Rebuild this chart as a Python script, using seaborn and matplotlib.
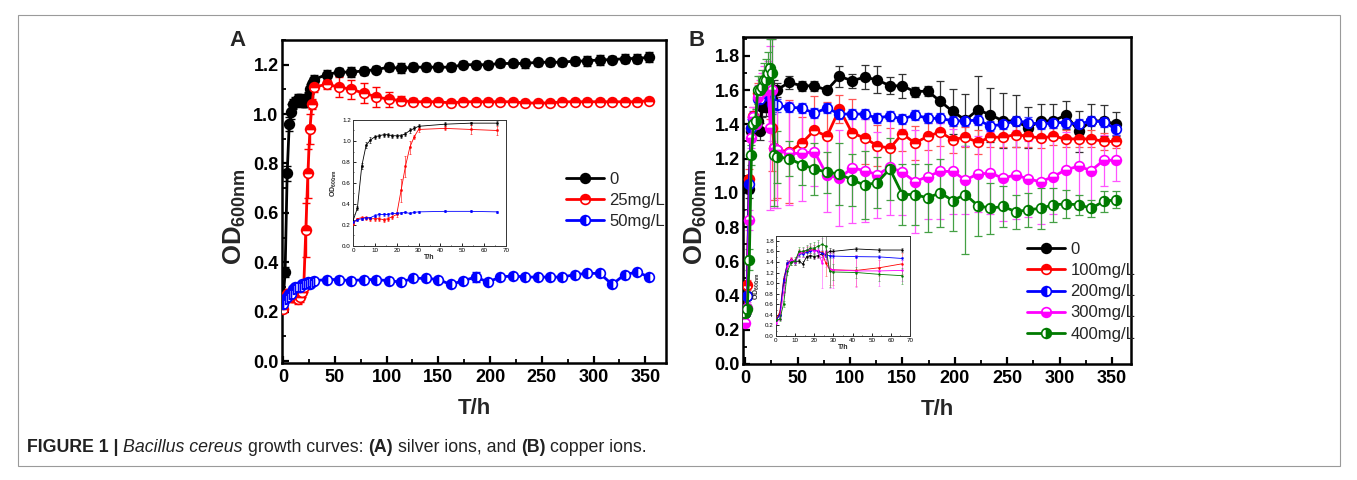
import numpy as np
import pandas as pd
import matplotlib
matplotlib.use("Agg")
import matplotlib.pyplot as plt
from matplotlib.patches import Rectangle
from matplotlib.ticker import MultipleLocator
import seaborn as sns

# ---------------- data ----------------
hours = [0, 2, 4, 6, 8, 10, 12, 14, 16, 18, 20, 22, 24, 26, 28, 30,
         42, 54, 66, 78, 90, 102, 114, 126, 138, 150, 162, 174, 186, 198,
         210, 222, 234, 246, 258, 270, 282, 294, 306, 318, 330, 342, 354]

# Panel A: silver ions
ag_labels = ["0", "25mg/L", "50mg/L"]
ag_0 = [0.24, 0.36, 0.76, 0.96, 1.01, 1.04, 1.05, 1.06, 1.06, 1.05, 1.05, 1.05, 1.07, 1.10, 1.12, 1.14,
        1.16, 1.17, 1.17, 1.175, 1.18, 1.19, 1.185, 1.19, 1.19, 1.19, 1.19, 1.20, 1.20, 1.20,
        1.205, 1.205, 1.205, 1.21, 1.21, 1.21, 1.215, 1.215, 1.22, 1.22, 1.225, 1.225, 1.23]
ag_0_err = [0.01, 0.02, 0.03, 0.03, 0.03, 0.02, 0.02, 0.02, 0.02, 0.02, 0.02, 0.02, 0.02, 0.02, 0.02, 0.02,
            0.02, 0.015, 0.02, 0.015, 0.015, 0.015, 0.02, 0.015, 0.015, 0.015, 0.015, 0.015, 0.015, 0.015,
            0.015, 0.015, 0.02, 0.015, 0.015, 0.015, 0.015, 0.02, 0.02, 0.015, 0.02, 0.02, 0.02]
ag_25 = [0.21, 0.26, 0.27, 0.27, 0.26, 0.26, 0.26, 0.25, 0.26, 0.28, 0.30, 0.53, 0.76, 0.94, 1.04, 1.11,
         1.12, 1.11, 1.10, 1.085, 1.07, 1.06, 1.055, 1.05, 1.05, 1.05, 1.045, 1.05, 1.05, 1.05,
         1.05, 1.05, 1.045, 1.045, 1.045, 1.05, 1.05, 1.05, 1.05, 1.05, 1.05, 1.05, 1.055]
ag_25_err = [0.01, 0.01, 0.02, 0.02, 0.02, 0.02, 0.02, 0.02, 0.02, 0.02, 0.02, 0.11, 0.10, 0.06, 0.02, 0.02,
             0.02, 0.04, 0.04, 0.04, 0.04, 0.03, 0.02, 0.015, 0.01, 0.01, 0.01, 0.01, 0.01, 0.01,
             0.01, 0.01, 0.01, 0.01, 0.01, 0.01, 0.01, 0.01, 0.01, 0.01, 0.01, 0.01, 0.01]
ag_50 = [0.23, 0.25, 0.26, 0.27, 0.27, 0.29, 0.30, 0.30, 0.30, 0.31, 0.31, 0.315, 0.32, 0.31, 0.32, 0.325,
         0.33, 0.33, 0.325, 0.33, 0.33, 0.325, 0.32, 0.335, 0.335, 0.33, 0.31, 0.325, 0.34, 0.32,
         0.34, 0.345, 0.34, 0.34, 0.34, 0.34, 0.35, 0.355, 0.355, 0.31, 0.35, 0.36, 0.34]
ag_50_err = [0.01, 0.01, 0.01, 0.01, 0.01, 0.01, 0.01, 0.01, 0.01, 0.01, 0.01, 0.01, 0.01, 0.01, 0.01, 0.01,
             0.01, 0.01, 0.01, 0.01, 0.01, 0.01, 0.01, 0.01, 0.01, 0.01, 0.01, 0.01, 0.02, 0.01,
             0.01, 0.01, 0.01, 0.01, 0.01, 0.01, 0.01, 0.01, 0.01, 0.01, 0.01, 0.01, 0.01]

# Panel B: copper ions
cu_labels = ["0", "100mg/L", "200mg/L", "300mg/L", "400mg/L"]
cu_0 = [0.30, 0.40, 1.02, 1.36, 1.40, 1.40, 1.42, 1.36, 1.50, 1.52, 1.50, 1.52, 1.55, 1.55, 1.60, 1.60,
        1.645, 1.625, 1.625, 1.60, 1.68, 1.655, 1.675, 1.66, 1.625, 1.625, 1.59, 1.595, 1.535, 1.475,
        1.425, 1.485, 1.455, 1.42, 1.42, 1.38, 1.42, 1.42, 1.455, 1.36, 1.42, 1.42, 1.40]
cu_0_err = [0.01, 0.02, 0.05, 0.04, 0.05, 0.06, 0.04, 0.05, 0.06, 0.05, 0.05, 0.05, 0.06, 0.05, 0.06, 0.04,
            0.04, 0.03, 0.03, 0.02, 0.06, 0.04, 0.07, 0.08, 0.05, 0.07, 0.03, 0.03, 0.12, 0.13,
            0.15, 0.20, 0.16, 0.16, 0.15, 0.12, 0.10, 0.10, 0.08, 0.12, 0.10, 0.09, 0.07]
cu_100 = [0.30, 0.46, 1.08, 1.38, 1.45, 1.40, 1.58, 1.56, 1.60, 1.62, 1.64, 1.60, 1.58, 1.38, 1.26, 1.25,
          1.24, 1.29, 1.365, 1.33, 1.49, 1.35, 1.32, 1.275, 1.26, 1.345, 1.29, 1.33, 1.355, 1.31,
          1.325, 1.295, 1.325, 1.325, 1.34, 1.33, 1.32, 1.33, 1.315, 1.315, 1.315, 1.30, 1.30]
cu_100_err = [0.01, 0.03, 0.06, 0.06, 0.05, 0.05, 0.06, 0.07, 0.08, 0.08, 0.08, 0.10, 0.15, 0.25, 0.30, 0.28,
              0.30, 0.15, 0.20, 0.20, 0.08, 0.20, 0.15, 0.12, 0.12, 0.10, 0.10, 0.08, 0.08, 0.08,
              0.06, 0.07, 0.06, 0.06, 0.07, 0.06, 0.06, 0.05, 0.05, 0.05, 0.05, 0.05, 0.04]
cu_200 = [0.30, 0.40, 1.05, 1.38, 1.43, 1.40, 1.55, 1.55, 1.58, 1.60, 1.62, 1.60, 1.56, 1.52, 1.52, 1.51,
          1.50, 1.495, 1.465, 1.495, 1.46, 1.46, 1.46, 1.435, 1.45, 1.43, 1.455, 1.435, 1.435, 1.42,
          1.42, 1.425, 1.39, 1.40, 1.42, 1.41, 1.40, 1.41, 1.41, 1.40, 1.42, 1.415, 1.37]
cu_200_err = [0.01, 0.02, 0.05, 0.05, 0.05, 0.04, 0.05, 0.05, 0.06, 0.06, 0.06, 0.06, 0.06, 0.06, 0.05, 0.04,
              0.03, 0.03, 0.03, 0.03, 0.03, 0.03, 0.03, 0.03, 0.03, 0.03, 0.03, 0.03, 0.03, 0.03,
              0.03, 0.03, 0.03, 0.03, 0.03, 0.03, 0.03, 0.03, 0.03, 0.03, 0.03, 0.03, 0.03]
cu_300 = [0.24, 0.33, 0.84, 1.32, 1.44, 1.40, 1.56, 1.58, 1.62, 1.64, 1.60, 1.62, 1.38, 1.60, 1.26, 1.25,
          1.23, 1.23, 1.24, 1.105, 1.085, 1.145, 1.13, 1.105, 1.15, 1.12, 1.065, 1.095, 1.125, 1.125,
          1.075, 1.11, 1.115, 1.085, 1.105, 1.08, 1.065, 1.095, 1.135, 1.155, 1.13, 1.19, 1.19]
cu_300_err = [0.01, 0.03, 0.06, 0.06, 0.06, 0.06, 0.07, 0.08, 0.08, 0.10, 0.12, 0.15, 0.48, 0.30, 0.35, 0.34,
              0.30, 0.28, 0.20, 0.22, 0.28, 0.32, 0.30, 0.25, 0.28, 0.25, 0.30, 0.25, 0.28, 0.25,
              0.20, 0.22, 0.24, 0.25, 0.26, 0.22, 0.25, 0.22, 0.22, 0.25, 0.20, 0.15, 0.12]
cu_400 = [0.30, 0.32, 0.61, 1.22, 1.40, 1.42, 1.60, 1.60, 1.62, 1.66, 1.66, 1.70, 1.73, 1.70, 1.22, 1.21,
          1.20, 1.165, 1.14, 1.12, 1.11, 1.075, 1.045, 1.06, 1.14, 0.99, 0.99, 0.97, 1.00, 0.955,
          0.99, 0.925, 0.91, 0.92, 0.89, 0.90, 0.91, 0.93, 0.935, 0.93, 0.91, 0.95, 0.96]
cu_400_err = [0.01, 0.03, 0.06, 0.06, 0.06, 0.07, 0.08, 0.08, 0.10, 0.10, 0.12, 0.12, 0.17, 0.20, 0.30, 0.15,
              0.10, 0.12, 0.15, 0.12, 0.18, 0.15, 0.20, 0.15, 0.18, 0.18, 0.18, 0.20, 0.20, 0.18,
              0.35, 0.18, 0.15, 0.12, 0.10, 0.10, 0.12, 0.10, 0.08, 0.06, 0.05, 0.06, 0.05]

# ---------------- style ----------------
sns.set_theme(style="ticks")
plt.rcParams["font.family"] = ["Liberation Sans", "DejaVu Sans"]
plt.rcParams["mathtext.fontset"] = "custom"
plt.rcParams["mathtext.rm"] = "Liberation Sans:bold"
plt.rcParams["mathtext.bf"] = "Liberation Sans:bold"
plt.rcParams["axes.edgecolor"] = "black"
plt.rcParams["xtick.color"] = "black"
plt.rcParams["ytick.color"] = "black"

W, H = 1357, 480
fig = plt.figure(figsize=(W / 100, H / 100), dpi=100)
fig.patch.set_facecolor("white")


def fbox(left, top, right, bottom):
    """Figure-fraction rectangle from pixel edges."""
    return [left / W, 1 - bottom / H, (right - left) / W, (bottom - top) / H]


def series(ax, t, y, err, color, fill, label, ms, lw, mew, cap, elw, ecolor=None, n=None):
    if n is not None:
        t, y, err = t[:n], y[:n], err[:n]
    ax.errorbar(t, y, yerr=err, fmt="none", ecolor=ecolor or color,
                elinewidth=elw, capsize=cap, capthick=elw, zorder=2)
    df = pd.DataFrame({"t": t, "od": y})
    sns.lineplot(data=df, x="t", y="od", ax=ax, color=color, lw=lw, marker="o",
                 ms=ms, fillstyle=fill, markerfacecolor=color,
                 markerfacecoloralt="white", markeredgecolor=color, mew=mew,
                 zorder=3, label=label, legend=False)
    return ax.lines[-1]


def style_main(ax, xlim, ylim, yticks, ymin_step, ylabel_xy):
    ax.set_xlim(*xlim)
    ax.set_ylim(*ylim)
    ax.set_xticks([0, 50, 100, 150, 200, 250, 300, 350])
    ax.set_yticks(yticks)
    ax.set_yticklabels([f"{v:.1f}" for v in yticks])
    ax.xaxis.set_minor_locator(MultipleLocator(25))
    ax.yaxis.set_minor_locator(MultipleLocator(ymin_step))
    ax.tick_params(which="major", direction="in", length=5, width=1.6,
                   labelsize=13, pad=4, top=False, right=False)
    ax.tick_params(axis="y", which="major", pad=2.5)
    ax.tick_params(which="minor", direction="in", length=3, width=1.3,
                   top=False, right=False)
    for lab in ax.get_xticklabels() + ax.get_yticklabels():
        lab.set_fontweight("bold")
    for s in ax.spines.values():
        s.set_linewidth(1.8)
        s.set_color("black")
    ax.set_xlabel("T/h", fontsize=16, fontweight="bold", labelpad=9)
    ax.set_ylabel(r"OD$_{\mathbf{600nm}}$", fontsize=18.5, fontweight="bold")
    ax.yaxis.set_label_coords(*ylabel_xy)


def style_inset(ax, ylim, yticks):
    ax.set_xlim(0, 70)
    ax.set_ylim(*ylim)
    ax.set_xticks([0, 10, 20, 30, 40, 50, 60, 70])
    ax.set_yticks(yticks)
    ax.set_yticklabels([f"{v:.1f}" for v in yticks])
    ax.xaxis.set_minor_locator(MultipleLocator(5))
    ax.yaxis.set_minor_locator(MultipleLocator(0.1))
    ax.tick_params(which="major", direction="in", length=2, width=0.6,
                   labelsize=4.5, pad=1.5, top=False, right=False)
    ax.tick_params(which="minor", direction="in", length=1, width=0.5, top=False, right=False)
    for s in ax.spines.values():
        s.set_linewidth(0.7)
        s.set_color("#333333")
    ax.set_xlabel("T/h", fontsize=5, fontweight="bold", labelpad=0.5)
    ax.set_ylabel(r"OD$_{\mathbf{600nm}}$", fontsize=5, fontweight="bold", labelpad=2)
    ax.set_facecolor("white")


# ---------------- panel A ----------------
axA = fig.add_axes(fbox(282, 40, 666, 363))
a_specs = [(ag_0, ag_0_err, "black", "full"),
           (ag_25, ag_25_err, "#ff0000", "top"),
           (ag_50, ag_50_err, "#0000ff", "left")]
handlesA = []
for (y, e, c, f), lab in zip(a_specs, ag_labels):
    handlesA.append(series(axA, hours, y, e, c, f, lab, ms=7, lw=2.0, mew=1.2, cap=3, elw=1.0))
style_main(axA, (-1, 370), (-0.008, 1.3), [0.0, 0.2, 0.4, 0.6, 0.8, 1.0, 1.2], 0.1,
           (-0.088, 0.455))
axA.legend(handles=handlesA, labels=ag_labels, loc="upper left",
           bbox_to_anchor=(566 / W, 1 - 172 / H), bbox_transform=fig.transFigure,
           frameon=False, fontsize=12, handlelength=2.3, handletextpad=0.3,
           labelspacing=0.37, borderpad=0, borderaxespad=0)

insA = fig.add_axes(fbox(353, 120, 506, 246))
for y, e, c, f in a_specs:
    series(insA, hours, y, e, c, "full", None, ms=1.6, lw=0.6, mew=0.3, cap=1, elw=0.4, n=19)
style_inset(insA, (0, 1.2), [0.0, 0.2, 0.4, 0.6, 0.8, 1.0, 1.2])

# ---------------- panel B ----------------
axB = fig.add_axes(fbox(743, 37, 1131, 364))
b_specs = [(cu_0, cu_0_err, "black", "full", "#333333"),
           (cu_100, cu_100_err, "#ff0000", "top", "#ff5555"),
           (cu_200, cu_200_err, "#0000ff", "left", "#4444ff"),
           (cu_300, cu_300_err, "#ff00ff", "bottom", "#ff55ff"),
           (cu_400, cu_400_err, "#007a00", "right", "#44a044")]
handlesB = []
for (y, e, c, f, ec), lab in zip(b_specs, cu_labels):
    handlesB.append(series(axB, hours, y, e, c, f, lab, ms=7, lw=2.0, mew=1.2,
                           cap=3, elw=0.9, ecolor=ec))
style_main(axB, (-2, 368), (0, 1.91), [0.0, 0.2, 0.4, 0.6, 0.8, 1.0, 1.2, 1.4, 1.6, 1.8], 0.1,
           (-0.088, 0.45))
axB.legend(handles=handlesB, labels=cu_labels, loc="upper left",
           bbox_to_anchor=(1027 / W, 1 - 242 / H), bbox_transform=fig.transFigure,
           frameon=False, fontsize=12, handlelength=2.3, handletextpad=0.3,
           labelspacing=0.37, borderpad=0, borderaxespad=0)

insB = fig.add_axes(fbox(776, 236, 910, 336))
for y, e, c, f, ec in b_specs:
    series(insB, hours, y, e, c, "full", None, ms=1.4, lw=0.6, mew=0.3, cap=1, elw=0.4,
           ecolor=ec, n=19)
style_inset(insB, (0, 1.89), [0.0, 0.2, 0.4, 0.6, 0.8, 1.0, 1.2, 1.4, 1.6, 1.8])

# ---------------- panel letters, frame, caption ----------------
fig.text(238 / W, 1 - 41 / H, "A", fontsize=16, fontweight="bold", ha="center", va="center")
fig.text(697 / W, 1 - 41 / H, "B", fontsize=16, fontweight="bold", ha="center", va="center")

fig.patches.append(Rectangle((18 / W, 1 - 466 / H), (1340 - 18) / W, (466 - 15) / H,
                             transform=fig.transFigure, fill=False,
                             edgecolor="#9a9a9a", linewidth=0.8))

cap_size = 12.8
renderer = fig.canvas.get_renderer()
caption = [("FIGURE 1 |", "bold", "normal", True),
           ("Bacillus cereus", "normal", "italic", True),
           ("growth curves:", "normal", "normal", True),
           ("(A)", "bold", "normal", True),
           ("silver ions, and", "normal", "normal", True),
           ("(B)", "bold", "normal", True),
           ("copper ions.", "normal", "normal", False)]


def text_w(s):
    t = fig.text(0, 0, s, fontsize=cap_size)
    w = t.get_window_extent(renderer).width
    t.remove()
    return w


space = text_w("n n") - text_w("nn")
x = 27.0
ybase = 1 - 452 / H
for s, wgt, sty, sp in caption:
    t = fig.text(x / W, ybase, s, fontsize=cap_size, fontweight=wgt, fontstyle=sty,
                 va="baseline", ha="left", color="#222222")
    x += t.get_window_extent(renderer).width + (space if sp else 0)

fig.savefig("out.png", dpi=100, facecolor="white")
